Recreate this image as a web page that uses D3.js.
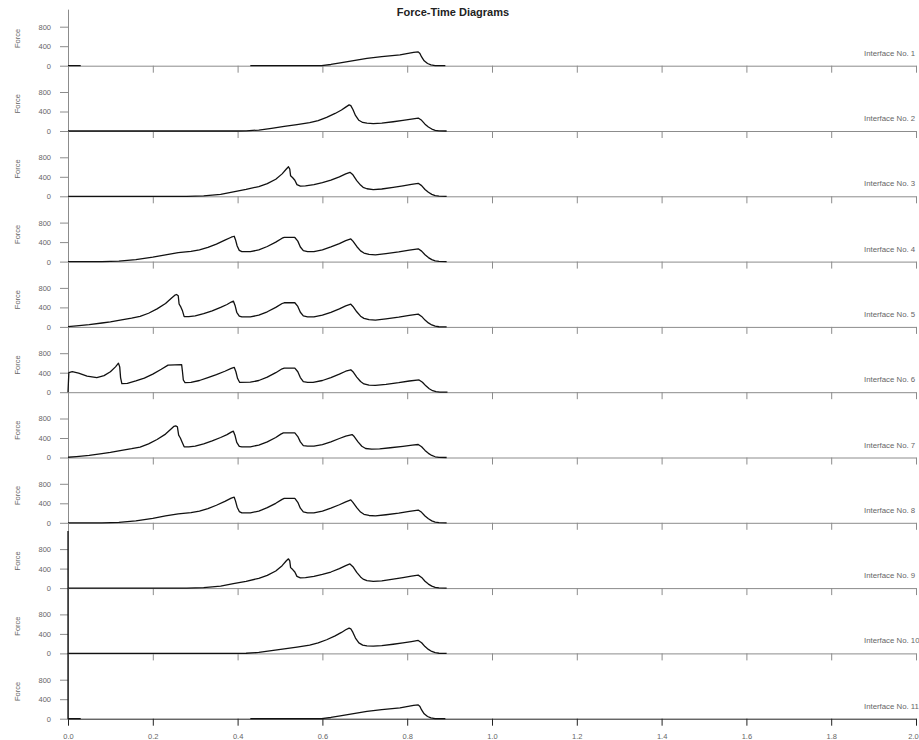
<!DOCTYPE html>
<html>
<head>
<meta charset="utf-8">
<script src="https://cdn.jsdelivr.net/npm/d3@7"></script>
<style>
body { margin: 0; background: #fff; }
svg { display: block; font-family: "Liberation Sans", Arial, sans-serif; }
.axis path, .axis line { stroke: #8c8c8c; }
.axis text { fill: #666; font-size: 7.5px; }
.axis.bottom path, .axis.bottom line { stroke: #222; }
.force { fill: none; stroke: #111; stroke-width: 1.3; stroke-linejoin: round; }
.label { fill: #666; font-size: 7.5px; }
.iface { fill: #666; font-size: 7.8px; }
.title { fill: #222; font-size: 11px; font-weight: bold; }
</style>
</head>
<body>
<div id="chart"></div>
<script>
var interfaces = ["Interface No. 1", "Interface No. 2", "Interface No. 3", "Interface No. 4",
    "Interface No. 5", "Interface No. 6", "Interface No. 7", "Interface No. 8",
    "Interface No. 9", "Interface No. 10", "Interface No. 11"];
var yTicks = [0, 400, 800];
var xTicks = [0, 0.2, 0.4, 0.6, 0.8, 1.0, 1.2, 1.4, 1.6, 1.8, 2.0];

// [time, force] pairs, null = no data
var iface1 = [[0, 0], [0.03, 0], [0.03, null], [0.43, 0], [0.598, 0], [0.62, 25], [0.642, 60],
    [0.67, 100], [0.705, 150], [0.74, 185], [0.783, 220], [0.815, 272], [0.826, 284], [0.83, 250],
    [0.834, 180], [0.84, 100], [0.848, 45], [0.856, 15], [0.866, 3], [0.89, 0]];
var iface2 = [[0, 0], [0.40, 0], [0.42, 3], [0.45, 20], [0.48, 55], [0.51, 95], [0.54, 130],
    [0.57, 170], [0.59, 215], [0.61, 280], [0.63, 360], [0.645, 430], [0.655, 490], [0.663, 535],
    [0.667, 520], [0.672, 440], [0.678, 320], [0.686, 220], [0.695, 175], [0.705, 160], [0.72, 150],
    [0.74, 160], [0.767, 190], [0.79, 220], [0.81, 245], [0.826, 266], [0.834, 219], [0.842, 140],
    [0.85, 82], [0.858, 40], [0.866, 14], [0.875, 3], [0.893, 0]];
var iface3 = [[0, 0], [0.28, 0], [0.32, 10], [0.36, 40], [0.39, 90], [0.42, 140], [0.45, 200],
    [0.47, 260], [0.49, 350], [0.505, 460], [0.515, 560], [0.52, 605], [0.523, 560], [0.525, 420],
    [0.53, 380], [0.535, 330], [0.54, 240], [0.548, 210], [0.56, 215], [0.58, 240], [0.60, 280],
    [0.62, 330], [0.64, 400], [0.655, 460], [0.665, 492], [0.672, 440], [0.681, 322], [0.69, 230],
    [0.696, 184], [0.705, 155], [0.72, 137], [0.74, 150], [0.767, 184], [0.79, 215], [0.81, 245],
    [0.826, 266], [0.834, 219], [0.842, 140], [0.85, 82], [0.858, 40], [0.866, 14], [0.875, 3],
    [0.893, 0]];
var iface4 = [[0, 0], [0.08, 0], [0.12, 10], [0.16, 40], [0.2, 90], [0.23, 140], [0.26, 185],
    [0.29, 210], [0.31, 240], [0.33, 290], [0.35, 360], [0.37, 440], [0.385, 500], [0.392, 520],
    [0.395, 450], [0.399, 320], [0.404, 230], [0.41, 205], [0.43, 205], [0.45, 240], [0.47, 310],
    [0.49, 400], [0.505, 480], [0.51, 495], [0.535, 495], [0.542, 420], [0.548, 300], [0.555, 225],
    [0.565, 205], [0.58, 205], [0.60, 240], [0.62, 300], [0.64, 370], [0.655, 430], [0.667, 465],
    [0.672, 420], [0.681, 310], [0.69, 220], [0.698, 175], [0.71, 150], [0.725, 140], [0.75, 165],
    [0.78, 200], [0.805, 235], [0.826, 262], [0.834, 215], [0.842, 140], [0.85, 82], [0.858, 40],
    [0.866, 14], [0.875, 3], [0.893, 0]];
var iface5 = [[0, 5], [0.02, 20], [0.05, 45], [0.08, 80], [0.1, 105], [0.123, 140], [0.15, 180],
    [0.17, 215], [0.19, 280], [0.21, 370], [0.23, 480], [0.245, 600], [0.252, 650], [0.256, 665],
    [0.26, 640], [0.262, 470], [0.266, 410], [0.27, 330], [0.274, 210], [0.285, 210], [0.30, 225],
    [0.32, 270], [0.34, 330], [0.36, 400], [0.375, 460], [0.385, 510], [0.39, 530], [0.394, 440],
    [0.398, 300], [0.404, 220], [0.41, 205], [0.43, 205], [0.45, 240], [0.47, 310], [0.49, 400],
    [0.505, 480], [0.51, 495], [0.535, 495], [0.542, 420], [0.548, 300], [0.555, 225], [0.565, 205],
    [0.58, 205], [0.60, 240], [0.62, 300], [0.64, 370], [0.655, 430], [0.667, 465], [0.672, 420],
    [0.681, 310], [0.69, 220], [0.698, 175], [0.71, 150], [0.725, 140], [0.75, 165], [0.78, 200],
    [0.805, 235], [0.826, 262], [0.834, 215], [0.842, 140], [0.85, 82], [0.858, 40], [0.866, 14],
    [0.875, 3], [0.893, 0]];
var iface6 = [[0, 0], [0.002, 400], [0.01, 420], [0.025, 390], [0.045, 330], [0.068, 300],
    [0.085, 340], [0.10, 420], [0.112, 520], [0.119, 595], [0.122, 520], [0.124, 300], [0.127, 175],
    [0.14, 180], [0.16, 230], [0.18, 290], [0.20, 370], [0.22, 470], [0.236, 555], [0.268, 565],
    [0.27, 420], [0.272, 250], [0.276, 195], [0.29, 200], [0.31, 240], [0.33, 300], [0.35, 360],
    [0.37, 430], [0.385, 490], [0.392, 510], [0.396, 420], [0.40, 280], [0.405, 200], [0.43, 205],
    [0.45, 240], [0.47, 310], [0.49, 400], [0.505, 480], [0.51, 495], [0.535, 495], [0.542, 420],
    [0.548, 300], [0.555, 215], [0.565, 200], [0.578, 200], [0.60, 240], [0.62, 300], [0.64, 370],
    [0.655, 430], [0.667, 460], [0.672, 420], [0.681, 310], [0.69, 220], [0.698, 170], [0.71, 145],
    [0.725, 138], [0.75, 160], [0.78, 195], [0.805, 230], [0.828, 252], [0.836, 205], [0.844, 130],
    [0.852, 70], [0.86, 30], [0.868, 10], [0.877, 2], [0.895, 0]];
var iface7 = [[0, 5], [0.02, 20], [0.05, 45], [0.08, 80], [0.1, 105], [0.123, 140], [0.15, 180],
    [0.17, 215], [0.19, 280], [0.21, 370], [0.23, 480], [0.245, 600], [0.25, 640], [0.254, 650],
    [0.258, 630], [0.261, 460], [0.265, 400], [0.269, 320], [0.274, 220], [0.285, 220], [0.30, 235],
    [0.32, 280], [0.34, 340], [0.36, 410], [0.375, 470], [0.385, 520], [0.39, 540], [0.394, 450],
    [0.398, 310], [0.404, 230], [0.41, 220], [0.43, 220], [0.45, 255], [0.47, 320], [0.49, 410],
    [0.502, 480], [0.508, 505], [0.535, 505], [0.542, 430], [0.548, 320], [0.555, 245], [0.565, 235],
    [0.58, 235], [0.60, 265], [0.62, 320], [0.64, 390], [0.655, 440], [0.67, 470], [0.675, 430],
    [0.684, 320], [0.693, 230], [0.702, 185], [0.716, 170], [0.735, 175], [0.76, 200], [0.79, 230],
    [0.812, 255], [0.826, 267], [0.834, 220], [0.842, 145], [0.85, 85], [0.858, 42], [0.866, 15],
    [0.875, 3], [0.893, 0]];
var iface8 = [[0, 0], [0.08, 0], [0.12, 10], [0.16, 40], [0.2, 90], [0.23, 140], [0.26, 185],
    [0.29, 210], [0.31, 240], [0.33, 290], [0.35, 360], [0.37, 440], [0.385, 505], [0.392, 525],
    [0.395, 450], [0.399, 320], [0.404, 230], [0.41, 205], [0.43, 205], [0.45, 240], [0.47, 310],
    [0.49, 400], [0.505, 480], [0.51, 500], [0.535, 500], [0.542, 420], [0.548, 300], [0.555, 225],
    [0.565, 205], [0.58, 205], [0.60, 240], [0.62, 300], [0.64, 370], [0.655, 430], [0.667, 470],
    [0.672, 420], [0.681, 310], [0.69, 220], [0.698, 175], [0.71, 150], [0.725, 140], [0.75, 165],
    [0.78, 200], [0.805, 235], [0.826, 262], [0.834, 215], [0.842, 140], [0.85, 82], [0.858, 40],
    [0.866, 14], [0.875, 3], [0.893, 0]];
var iface9 = [[0, 1170], [0, 0], [0.28, 0], [0.32, 10], [0.36, 40], [0.39, 90], [0.42, 140],
    [0.45, 200], [0.47, 260], [0.49, 350], [0.505, 460], [0.515, 560], [0.52, 600], [0.523, 560],
    [0.525, 420], [0.53, 380], [0.535, 330], [0.54, 240], [0.548, 210], [0.56, 215], [0.58, 240],
    [0.60, 280], [0.62, 330], [0.64, 400], [0.655, 460], [0.665, 495], [0.672, 440], [0.681, 322],
    [0.69, 230], [0.696, 184], [0.705, 155], [0.72, 137], [0.74, 150], [0.767, 184], [0.79, 215],
    [0.81, 245], [0.826, 266], [0.834, 219], [0.842, 140], [0.85, 82], [0.858, 40], [0.866, 14],
    [0.875, 3], [0.893, 0]];
var iface10 = [[0, 1338], [0, 0], [0.40, 0], [0.42, 3], [0.45, 20], [0.48, 55], [0.51, 95],
    [0.54, 130], [0.57, 170], [0.59, 215], [0.61, 280], [0.63, 360], [0.645, 430], [0.655, 485],
    [0.663, 520], [0.667, 505], [0.672, 430], [0.678, 315], [0.686, 215], [0.695, 170], [0.705, 155],
    [0.72, 148], [0.74, 158], [0.767, 188], [0.79, 218], [0.81, 243], [0.826, 265], [0.834, 219],
    [0.842, 140], [0.85, 82], [0.858, 40], [0.866, 14], [0.875, 3], [0.893, 0]];
var iface11 = [[0, 1338], [0, 0], [0.03, 0], [0.03, null], [0.43, 0], [0.598, 0], [0.62, 25],
    [0.642, 60], [0.67, 100], [0.705, 150], [0.74, 185], [0.783, 220], [0.815, 272], [0.826, 284],
    [0.83, 250], [0.834, 180], [0.84, 100], [0.848, 45], [0.856, 15], [0.866, 3], [0.89, 0]];

var panels = [iface1, iface2, iface3, iface4, iface5, iface6, iface7, iface8, iface9, iface10, iface11];

var width = 919, height = 740;
var left = 68, right = 916;
var firstBase = 65.7, step = 65.3, unit = 0.04875;

var svg = d3.select('#chart').append('svg')
    .attr('width', width)
    .attr('height', height);

var x = d3.scaleLinear().domain([0, 2]).range([left, right]);

var line = d3.line()
    .defined(d => d[1] !== null)
    .x(d => x(d[0]))
    .y(d => d.y);

panels.forEach(function (data, i) {
    var base = firstBase + i * step;
    var yMax = i == 0 ? 1160 : 1340;
    var y = d3.scaleLinear().domain([0, yMax]).range([base, base - yMax * unit]);
    var last = i == panels.length - 1;

    var g = svg.append('g');

    var xAxis = g.append('g')
        .attr('class', 'axis' + (last ? ' bottom' : ''))
        .attr('transform', `translate(0, ${base})`)
        .call(d3.axisBottom(x)
            .tickValues(xTicks)
            .tickSize(7)
            .tickSizeOuter(0)
            .tickPadding(8)
            .tickFormat(last ? d3.format('.1f') : ''));

    // keep the last tick label inside the picture
    if (last) {
        xAxis.selectAll('.tick text')
            .filter(d => d == 2)
            .attr('dx', -3);
    }

    g.append('g')
        .attr('class', 'axis')
        .attr('transform', `translate(${left}, 0)`)
        .call(d3.axisLeft(y)
            .tickValues(yTicks)
            .tickSize(8)
            .tickSizeOuter(0)
            .tickPadding(9));

    g.append('path')
        .attr('class', 'force')
        .attr('d', line(data.map(d => Object.assign([d[0], d[1]], { y: d[1] === null ? 0 : y(d[1]) }))));

    g.append('text')
        .attr('class', 'label')
        .attr('transform', `translate(20, ${y(560)}) rotate(-90)`)
        .attr('text-anchor', 'middle')
        .text('Force');

    g.append('text')
        .attr('class', 'iface')
        .attr('x', 864)
        .attr('y', base - 10)
        .text(interfaces[i]);
});

svg.append('text')
    .attr('class', 'title')
    .attr('x', 453)
    .attr('y', 16)
    .attr('text-anchor', 'middle')
    .text('Force-Time Diagrams');
</script>
</body>
</html>
